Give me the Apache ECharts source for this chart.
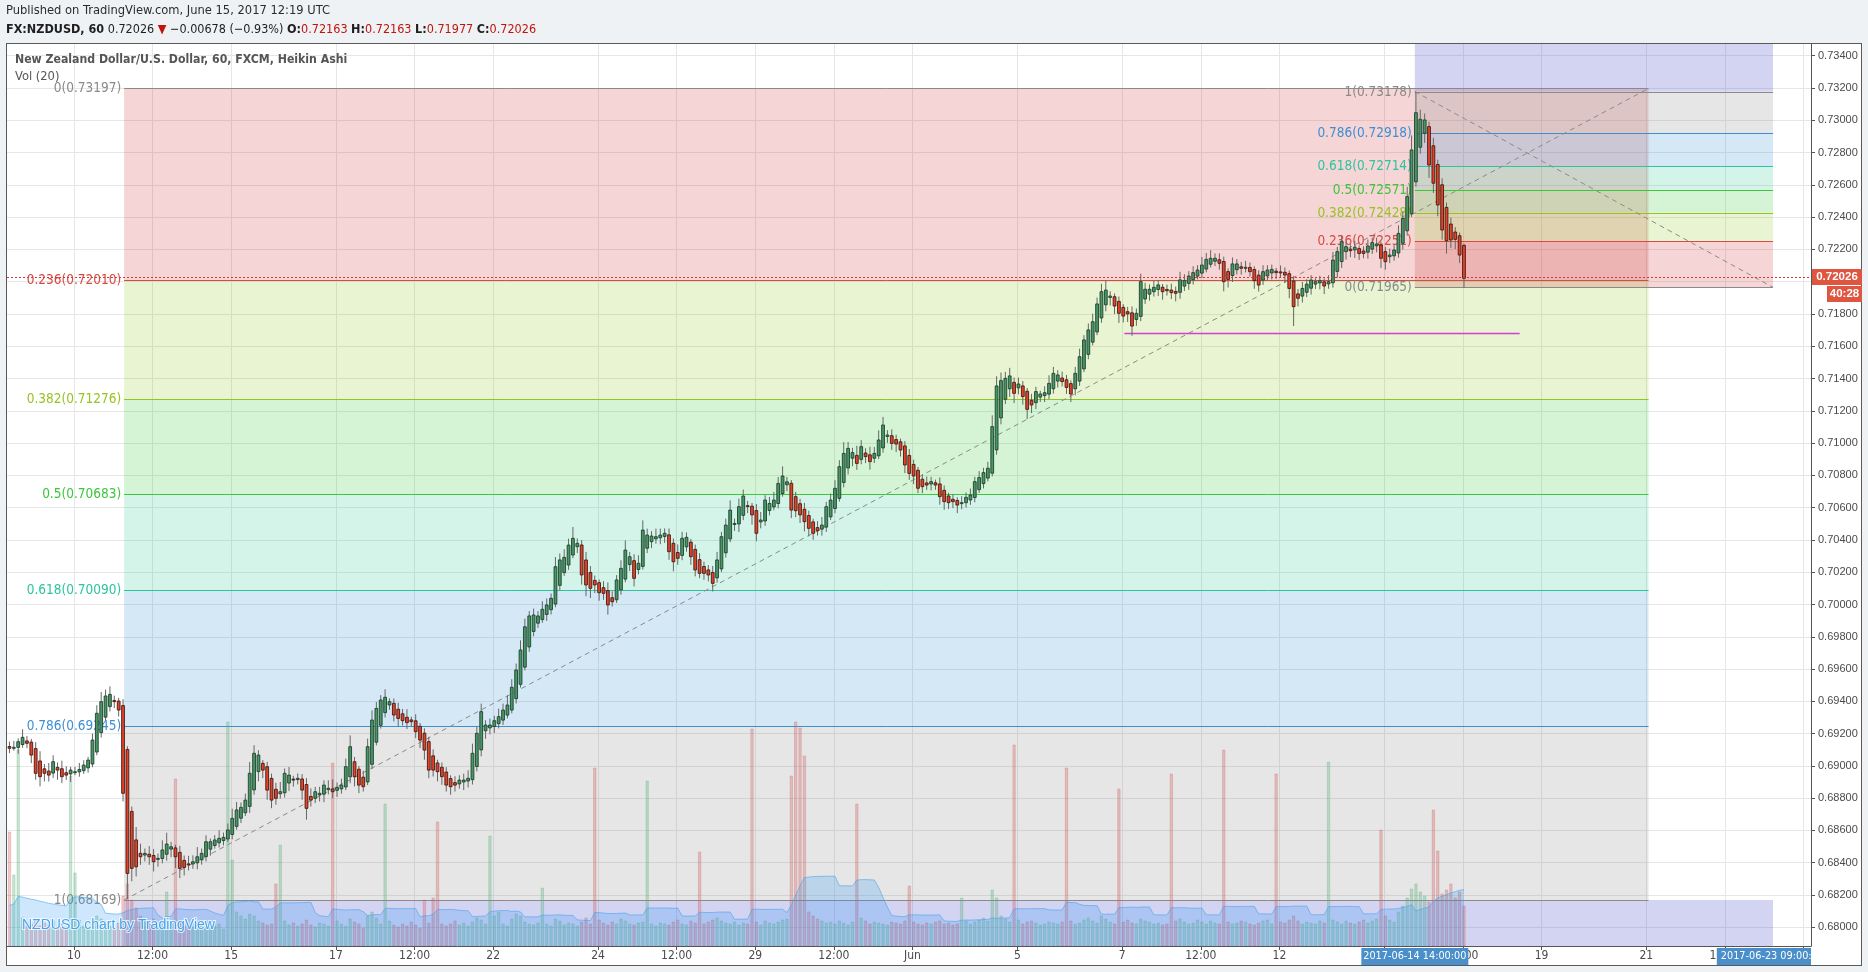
<!DOCTYPE html>
<html>
<head>
<meta charset="utf-8">
<title>NZDUSD 60 Heikin Ashi</title>
<script src="https://cdn.jsdelivr.net/npm/echarts@6.0.0/dist/echarts.min.js"></script>
<style>
html,body{margin:0;padding:0;background:#eff2f5;width:1868px;height:972px;overflow:hidden;}
#frame{position:absolute;left:6px;top:43px;width:1856px;height:923px;box-sizing:border-box;border:1px solid #5a5a5a;background:#fff;}
#c{position:absolute;left:0;top:0;width:1868px;height:972px;}
</style>
</head>
<body>
<div id="frame"></div>
<div id="c"></div>
<script>
// ---------------- DATA ----------------
// Heikin Ashi closes, one per 2-hour bar
const closes = [
0.69109,0.69115,0.6915,0.69177,0.6914,0.69067,0.68954,0.68933,0.68954,0.68943,
0.69026,0.68974,0.68933,0.68943,0.68974,0.68964,0.68978,0.69005,0.69036,0.6916,
0.69326,0.69398,0.69433,0.69443,0.69398,0.69346,0.6883,0.68334,0.68365,0.68375,
0.68437,0.68458,0.68437,0.68406,0.68427,0.68479,0.68516,0.68499,0.68437,0.68365,
0.68371,0.68392,0.68406,0.68437,0.68458,0.6853,0.6853,0.68541,0.68551,0.68557,
0.68603,0.68675,0.68727,0.68743,0.68788,0.68954,0.69078,0.69067,0.68974,0.6885,
0.68788,0.68799,0.6884,0.68954,0.68943,0.68912,0.68923,0.6885,0.68737,0.68788,
0.6884,0.6883,0.68881,0.68861,0.6884,0.68867,0.68881,0.68995,0.69119,0.68933,
0.68881,0.68871,0.69119,0.69284,0.69356,0.69408,0.69425,0.69398,0.69315,0.69294,
0.6928,0.69268,0.69274,0.69212,0.6916,0.69098,0.68974,0.68974,0.68964,0.68933,
0.68881,0.68871,0.68881,0.68912,0.68912,0.68923,0.69078,0.69202,0.69336,0.69253,
0.69253,0.6928,0.69305,0.69346,0.69377,0.69487,0.69594,0.69718,0.69862,0.69929,
0.69935,0.69929,0.6997,0.69997,0.70038,0.70234,0.70276,0.70292,0.70368,0.7041,
0.70379,0.70183,0.70121,0.701,0.70121,0.70073,0.70069,0.69997,0.70017,0.70152,
0.70224,0.70337,0.70296,0.70162,0.70255,0.70461,0.7043,0.70424,0.7042,0.7043,
0.70441,0.70327,0.70265,0.70286,0.7041,0.70416,0.70296,0.70214,0.70193,0.70193,
0.70183,0.70131,0.70276,0.7042,0.70492,0.70585,0.70502,0.70606,0.70672,0.70606,
0.70555,0.70441,0.70523,0.70647,0.70626,0.70647,0.7075,0.70796,0.7076,0.70585,
0.70581,0.70555,0.70513,0.70472,0.70441,0.70457,0.70492,0.70606,0.70647,0.7072,
0.70854,0.70936,0.70967,0.70941,0.70874,0.70978,0.70916,0.70885,0.70936,0.71019,
0.71112,0.7105,0.70998,0.70994,0.70957,0.70864,0.70812,0.70796,0.7072,0.7073,
0.7074,0.70761,0.7074,0.70668,0.70637,0.70631,0.70637,0.70616,0.70631,0.70664,
0.70678,0.70761,0.70786,0.70817,0.70844,0.71102,0.71354,0.71387,0.71401,0.71416,
0.71308,0.71366,0.71288,0.71209,0.71236,0.71319,0.71304,0.71312,0.7137,0.71432,
0.71422,0.71381,0.71345,0.71304,0.71432,0.71535,0.71639,0.71701,0.71752,0.71862,
0.71938,0.71948,0.71911,0.71849,0.71804,0.71787,0.718,0.71725,0.71804,0.72,
0.71953,0.71953,0.71965,0.7198,0.71938,0.71944,0.71932,0.71928,0.72011,0.72006,
0.72035,0.72056,0.72072,0.72103,0.72138,0.72145,0.72145,0.72114,0.72,0.72014,
0.7211,0.7211,0.72083,0.72089,0.72062,0.72006,0.71979,0.72062,0.72072,0.72076,
0.72056,0.72056,0.72041,0.71958,0.71845,0.71897,0.71958,0.71985,0.7201,0.72,
0.72006,0.71973,0.72,0.72134,0.72186,0.72248,0.72217,0.72192,0.72213,0.72175,
0.72175,0.72221,0.72242,0.72233,0.72145,0.72124,0.72165,0.72196,0.72299,0.72392,
0.72527,0.72816,0.73047,0.73006,0.73002,0.72723,0.7261,0.72475,0.7232,0.72254,
0.72258,0.72262,0.72165,0.72021
];
// upper / lower wick lengths beyond the body, in pips (0.0001)
const wickUp = [
3,4,2,5,3,2,4,6,3,5,4,3,5,4,2,3,4,3,2,4,
5,6,4,5,3,2,4,2,3,8,6,3,5,4,3,6,7,3,2,4,
3,5,4,6,3,4,2,3,5,3,4,6,5,3,4,7,5,3,2,3,
3,4,6,3,5,2,3,3,4,5,3,4,3,5,6,3,4,5,7,3,
2,4,5,6,4,3,5,2,3,4,3,5,2,4,2,3,3,4,2,3,
3,2,4,3,4,5,6,4,5,3,4,3,5,4,6,5,4,6,5,3,
4,3,5,4,3,6,4,5,4,7,3,3,5,4,3,2,4,5,4,3,
5,6,3,4,5,6,4,3,5,4,3,4,3,5,4,3,2,3,4,3,
3,4,5,3,4,6,3,5,4,3,2,4,5,3,4,5,4,6,3,2,
3,3,4,3,2,4,5,3,4,5,4,7,4,3,6,4,3,5,4,6,
5,3,4,3,2,3,4,3,2,3,4,3,2,4,3,2,3,2,4,3,
4,3,4,3,4,7,6,5,4,5,3,4,3,2,4,3,2,4,5,4,
3,4,3,2,4,5,3,4,5,4,5,6,3,2,3,2,3,4,3,5,
4,3,4,3,2,3,4,3,5,4,3,4,3,5,4,5,3,4,3,2,
4,3,3,4,3,2,3,4,3,3,2,4,3,2,3,3,4,3,3,2,
3,2,4,5,3,4,3,3,4,2,3,4,3,4,2,3,4,3,5,4,
6,9,13,6,4,3,5,3,4,3,4,3,2,1
];
const wickDn = [
3,2,4,2,3,5,4,6,5,4,3,6,4,3,5,2,3,2,3,2,
2,3,2,3,4,4,5,16,8,6,5,4,5,6,5,3,4,5,7,6,
5,4,3,4,3,3,4,2,3,3,2,3,2,3,2,4,3,6,5,6,
5,4,3,3,5,4,3,6,7,4,3,4,5,3,4,4,3,2,4,6,
5,3,2,3,2,2,3,3,4,5,3,4,3,4,5,6,5,4,6,5,
4,5,4,3,5,4,3,3,4,5,4,4,3,3,2,2,3,2,2,3,
3,3,2,4,3,2,3,2,3,2,4,6,7,6,5,5,4,6,3,2,
3,2,4,5,3,2,3,4,3,4,4,5,6,4,3,3,5,4,3,4,
4,5,3,2,3,2,4,5,3,4,6,5,4,3,3,2,3,2,4,5,
4,5,6,5,4,3,4,3,2,3,2,3,4,5,4,3,4,5,3,2,
3,4,4,5,4,5,4,5,3,4,3,4,3,5,5,4,4,5,4,3,
3,3,2,3,2,2,3,4,3,5,6,4,5,6,5,4,3,4,3,3,
4,3,4,5,4,3,2,3,2,2,3,4,5,5,6,4,5,6,4,3,
3,4,3,4,5,3,4,5,4,3,4,3,2,3,2,2,3,4,6,5,
4,3,4,3,3,5,4,3,3,4,4,3,5,6,12,5,4,3,4,3,
4,5,3,3,4,4,5,4,5,4,3,4,3,4,6,5,4,3,3,4,
3,2,3,4,6,8,6,7,6,8,5,6,5,6
];
// volume per 2-hour bar, and the bars just before the visible window (for the MA)
const priorVolumes = [420,450,400,480,430,390,460,410,440,380,350,330,300,320,290,280,300,260,280];
const volumes = [
1140,710,1960,280,240,220,260,200,230,210,250,190,220,180,1700,730,260,200,170,220,
300,270,220,200,170,230,500,620,460,380,300,250,220,270,200,180,540,220,1670,230,
200,220,190,230,210,240,180,200,220,170,2240,860,340,300,270,320,300,250,230,210,
220,620,1010,250,210,230,200,220,260,210,190,230,220,200,1830,250,220,200,270,240,
220,180,300,340,280,220,1420,250,210,190,220,200,240,210,180,460,230,480,1240,220,
200,220,250,210,230,200,240,280,260,220,1100,300,340,220,200,270,320,300,240,220,
210,230,580,220,200,270,250,210,230,220,200,240,280,220,1780,260,230,210,240,220,
270,250,220,210,230,240,1650,220,200,230,220,210,240,260,220,210,250,230,940,220,
240,260,280,250,230,220,240,210,230,220,2170,240,210,250,230,220,240,260,270,1700,
2240,2180,1900,340,300,270,250,230,240,220,250,230,210,240,1420,280,250,220,240,230,
220,210,240,230,220,250,600,240,220,210,230,220,240,250,220,230,210,220,480,250,
220,240,260,280,250,560,480,300,270,240,2010,260,220,240,250,230,210,220,240,230,
220,240,1780,250,220,230,260,280,250,230,300,270,240,220,1570,240,260,230,220,270,
250,240,220,230,210,220,1720,250,270,240,220,230,260,240,220,250,230,220,1960,240,
220,230,250,240,220,210,230,250,260,220,1720,240,230,260,300,250,220,240,230,220,
250,230,1840,260,240,220,250,230,220,240,260,230,250,270,1160,300,260,240,340,400,
480,570,620,540,500,440,1360,950,520,560,620,480,540,400
];
const firstOpen = 0.6912;
const firstBarHour = -30;      // hours counted (weekends skipped) from 10 May 00:00 UTC
const barSpanHours = 2;
const volMaPeriod = 20;

// time axis ticks (trading-hour index) and their labels
const tickHours  = [0,36,72,120,156,192,240,276,312,348,384,432,480,516,552,600,636,672,720,756,792];
const tickLabels = ['10','12:00','15','17','12:00','22','24','12:00','29','12:00','Jun','5','7','12:00','12','14','12:00','19','21','12:00','26'];
// price axis ticks
const priceTicks = [0.680,0.682,0.684,0.686,0.688,0.690,0.692,0.694,0.696,0.698,0.700,0.702,0.704,0.706,
                    0.708,0.710,0.712,0.714,0.716,0.718,0.720,0.722,0.724,0.726,0.728,0.730,0.732,0.734];

// Fibonacci retracements
const fibRatios  = [0, 0.236, 0.382, 0.5, 0.618, 0.786, 1];
const fib1Prices = [0.73197, 0.72010, 0.71276, 0.70683, 0.70090, 0.69245, 0.68169];
const fib1Hours  = [23, 721];
const fib2Prices = [0.71965, 0.72251, 0.72428, 0.72571, 0.72714, 0.72918, 0.73178];
const fib2Hours  = [614, 778];
const lowerExtHours = [23, 778];
const supportPrice = 0.71679;
const supportHours = [481, 662];
const lastPrice = 0.72026;
const countdownText = '40:28';
const crossHours = [614, 777];
const crossTexts = ['2017-06-14 14:00:00', '2017-06-23 09:00:'];

// ---------------- LAYOUT / STYLE ----------------
const GRID_RECT = {left: 7, top: 44, width: 1804, height: 902};
const H_RANGE = [-30.63, 795.4];
const P_RANGE = [0.678841, 0.734725];
const VOL_MAX = 9020;
const FONT_NARROW = "'Liberation Sans Narrow', 'DejaVu Sans Condensed', 'Liberation Sans', sans-serif";
const FONT_AXIS = "'Liberation Sans', Arial, sans-serif";
const FONT_FIB = "'DejaVu Sans Condensed', 'DejaVu Sans', sans-serif";
const fibColors = ['#8a8a8a', '#d94a45', '#97c322', '#3cc63c', '#2dc4a0', '#3d8fd3', '#8a8a8a'];
const bandFills = ['rgba(128,128,128,0.2)', 'rgba(205,45,45,0.2)', 'rgba(140,200,30,0.2)', 'rgba(45,200,45,0.2)',
                   'rgba(40,200,150,0.2)', 'rgba(40,140,205,0.2)', 'rgba(128,128,128,0.2)', 'rgba(85,85,205,0.26)'];
const lineStyles = fibColors.map(c => ({color: c, dash: null, width: 1}))
  .concat([{color: '#8a8a8a', dash: [5, 4], width: 1}, {color: '#d23fd2', dash: null, width: 1.3}]);
const UP_FILL = '#4b9668', UP_EDGE = '#1c432c', DN_FILL = '#e0442c', DN_EDGE = '#4a1810';

// ---------------- BUILD ----------------
const candles = [];
let o = firstOpen;
for (let k = 0; k < closes.length; k++) {
  if (k > 0) o = (candles[k - 1][1] + candles[k - 1][2]) / 2;   // Heikin Ashi open
  const c = closes[k];
  const hi = Math.max(o, c) + wickUp[k] * 1e-4;
  const lo = Math.min(o, c) - wickDn[k] * 1e-4;
  const t = firstBarHour + k * barSpanHours + barSpanHours / 4;
  candles.push([t, o, c, lo, hi]);
}
const volData = candles.map((cd, k) => [cd[0], volumes[k], cd[2] >= cd[1] ? 1 : 0]);
const allVol = priorVolumes.concat(volumes);
const volMa = candles.map((cd, k) => {
  const end = k + priorVolumes.length;
  const from = Math.max(0, end - volMaPeriod + 1);
  let s = 0; for (let j = from; j <= end; j++) s += allVol[j];
  return [cd[0], s / (end - from + 1)];
});

const bands = [];
for (let i = 0; i < 6; i++) bands.push([fib1Hours[0], fib1Hours[1], fib1Prices[i], fib1Prices[i + 1], i + 1]);
for (let i = 0; i < 6; i++) bands.push([fib2Hours[0], fib2Hours[1], fib2Prices[i], fib2Prices[i + 1], i + 1]);
bands.push([fib2Hours[0], fib2Hours[1], fib2Prices[6], P_RANGE[1], 7]);
bands.push([lowerExtHours[0], lowerExtHours[1], P_RANGE[0], fib1Prices[6], 7]);

const lines = [];
for (let i = 0; i < 7; i++) lines.push([fib1Hours[0], fib1Hours[1], fib1Prices[i], fib1Prices[i], i]);
for (let i = 0; i < 7; i++) lines.push([fib2Hours[0], fib2Hours[1], fib2Prices[i], fib2Prices[i], i]);
lines.push([fib1Hours[0], fib1Hours[1], fib1Prices[6], fib1Prices[0], 7]);
lines.push([fib2Hours[0], fib2Hours[1], fib2Prices[6], fib2Prices[0], 7]);
lines.push([supportHours[0], supportHours[1], supportPrice, supportPrice, 8]);

const labels = [];
for (let i = 0; i < 7; i++) labels.push([fib1Hours[0], fib1Prices[i], i]);
for (let i = 0; i < 7; i++) labels.push([fib2Hours[0], fib2Prices[i], i]);

const chart = echarts.init(document.getElementById('c'), null, {renderer: 'canvas'});

const option = {
  animation: false,
  backgroundColor: 'transparent',
  textStyle: {fontFamily: FONT_AXIS},
  grid: [Object.assign({}, GRID_RECT), Object.assign({}, GRID_RECT)],
  xAxis: [{
    type: 'value', gridIndex: 0, min: H_RANGE[0], max: H_RANGE[1],
    axisLine: {show: true, onZero: false, lineStyle: {color: '#555'}},
    axisTick: {show: true, customValues: tickHours, length: 4, lineStyle: {color: '#555'}},
    axisLabel: {show: true, customValues: tickHours, formatter: v => {
        const i = tickHours.indexOf(Math.round(v)); return i >= 0 ? tickLabels[i] : ''; },
      color: '#4a4a4a', fontFamily: FONT_NARROW, fontSize: 12, margin: 4},
    splitLine: {show: true, lineStyle: {color: '#e6e6e6', width: 1}}
  }, {
    type: 'value', gridIndex: 1, min: H_RANGE[0], max: H_RANGE[1], show: false,
    splitLine: {show: false}
  }],
  yAxis: [{
    type: 'value', gridIndex: 0, position: 'right', min: P_RANGE[0], max: P_RANGE[1],
    axisLine: {show: true, onZero: false, lineStyle: {color: '#555'}},
    axisTick: {show: true, customValues: priceTicks, length: 4, lineStyle: {color: '#555'}},
    axisLabel: {show: true, customValues: priceTicks, formatter: v => v.toFixed(5),
      color: '#4a4a4a', fontSize: 11, fontFamily: FONT_AXIS, margin: 7},
    splitLine: {show: true, lineStyle: {color: '#e6e6e6', width: 1}}
  }, {
    type: 'value', gridIndex: 1, min: 0, max: VOL_MAX, show: false, splitLine: {show: false}
  }],
  series: [
    { // Fibonacci fills
      type: 'custom', name: 'fibBands', xAxisIndex: 0, yAxisIndex: 0, z: 1, silent: true, clip: true,
      data: bands,
      renderItem: (params, api) => {
        const a = api.coord([api.value(0), api.value(2)]);
        const b = api.coord([api.value(1), api.value(3)]);
        return {type: 'rect', shape: {x: a[0], y: Math.min(a[1], b[1]), width: b[0] - a[0], height: Math.abs(b[1] - a[1])},
                style: {fill: bandFills[api.value(4)]}};
      }
    },
    { // Fibonacci lines, diagonals, support line
      type: 'custom', name: 'fibLines', xAxisIndex: 0, yAxisIndex: 0, z: 1.2, silent: true, clip: true,
      data: lines,
      renderItem: (params, api) => {
        const a = api.coord([api.value(0), api.value(2)]);
        const b = api.coord([api.value(1), api.value(3)]);
        const s = lineStyles[api.value(4)];
        let y1 = a[1], y2 = b[1];
        if (Math.abs(y1 - y2) < 0.01) { y1 = y2 = Math.round(y1) + 0.5; }
        return {type: 'line', shape: {x1: a[0], y1: y1, x2: b[0], y2: y2},
                style: {stroke: s.color, lineWidth: s.width, lineDash: s.dash}};
      }
    },
    { // Fibonacci labels
      type: 'custom', name: 'fibLabels', xAxisIndex: 0, yAxisIndex: 0, z: 1.3, silent: true,
      data: labels,
      renderItem: (params, api) => {
        const p = api.coord([api.value(0), api.value(1)]);
        const ri = api.value(2);
        return {type: 'text', x: p[0] - 3, y: Math.round(p[1]) + 0.5,
                style: {text: String(fibRatios[ri]) + '(' + api.value(1).toFixed(5) + ')',
                        fill: fibColors[ri], align: 'right', verticalAlign: 'middle',
                        fontSize: 13.5, fontFamily: FONT_FIB}};
      }
    },
    { // volume bars
      type: 'custom', name: 'Vol', xAxisIndex: 1, yAxisIndex: 1, z: 2, silent: true, clip: true,
      data: volData,
      renderItem: (params, api) => {
        const top = api.coord([api.value(0), api.value(1)]);
        const base = api.coord([api.value(0), 0]);
        const w = api.size([barSpanHours, 0])[0] * 0.55;
        const up = api.value(2) === 1;
        return {type: 'rect', shape: {x: top[0] - w / 2, y: top[1], width: w, height: base[1] - top[1]},
                style: {fill: up ? 'rgba(86,180,120,0.32)' : 'rgba(210,95,95,0.32)',
                        stroke: up ? 'rgba(86,170,115,0.45)' : 'rgba(200,90,90,0.45)', lineWidth: 0.6}};
      }
    },
    { // volume moving average
      type: 'line', name: 'Vol MA', xAxisIndex: 1, yAxisIndex: 1, z: 2.1, silent: true,
      data: volMa, symbol: 'none', smooth: false,
      lineStyle: {color: 'rgba(60,160,235,0.55)', width: 1},
      areaStyle: {color: 'rgba(45,150,240,0.33)'}
    },
    { // Heikin Ashi candles
      type: 'custom', name: 'NZDUSD', xAxisIndex: 0, yAxisIndex: 0, z: 3, silent: true, clip: true,
      data: candles,
      renderItem: (params, api) => {
        const t = api.value(0), op = api.value(1), cl = api.value(2), lo = api.value(3), hi = api.value(4);
        const pO = api.coord([t, op]), pC = api.coord([t, cl]), pL = api.coord([t, lo]), pH = api.coord([t, hi]);
        const bw = api.size([barSpanHours, 0])[0] * 0.64;
        const up = cl >= op;
        const x = pO[0];
        const top = Math.min(pO[1], pC[1]);
        const h = Math.max(Math.abs(pO[1] - pC[1]), 1);
        return {type: 'group', children: [
          {type: 'line', shape: {x1: x, y1: pH[1], x2: x, y2: pL[1]}, style: {stroke: '#666', lineWidth: 1}},
          {type: 'rect', shape: {x: x - bw / 2, y: top, width: bw, height: h},
           style: {fill: up ? UP_FILL : DN_FILL, stroke: up ? UP_EDGE : DN_EDGE, lineWidth: 0.9}}
        ]};
      }
    },
    { // last price line
      type: 'custom', name: 'lastPrice', xAxisIndex: 0, yAxisIndex: 0, z: 4, silent: true,
      data: [[H_RANGE[0], lastPrice]],
      renderItem: (params, api) => {
        const y = Math.round(api.coord([api.value(0), api.value(1)])[1]) + 0.5;
        const cs = params.coordSys;
        return {type: 'line', shape: {x1: cs.x, y1: y, x2: cs.x + cs.width, y2: y},
                style: {stroke: '#d33a2c', lineWidth: 1, lineDash: [2, 2]}};
      }
    }
  ]
};
chart.setOption(option);

// ---------------- ANNOTATIONS ----------------
const xRight = chart.convertToPixel({xAxisIndex: 0}, H_RANGE[1]);
const yBottom = chart.convertToPixel({yAxisIndex: 0}, P_RANGE[0]);
const yLast = Math.round(chart.convertToPixel({yAxisIndex: 0}, lastPrice));
const cross = crossHours.map(h => chart.convertToPixel({xAxisIndex: 0}, h));

const graphics = [
  {type: 'text', x: 6, y: 11, z: 100, style: {text: 'Published on TradingView.com, June 15, 2017 12:19 UTC',
    fill: '#2b2b2b', fontSize: 12.8, fontFamily: FONT_NARROW, verticalAlign: 'middle'}},
  {type: 'text', x: 6, y: 30, z: 100, style: {
    text: '{b|FX:NZDUSD, 60} {n|0.72026} {r|▼} {n|−0.00678 (−0.93%)} {b|O:}{r|0.72163} {b|H:}{r|0.72163} {b|L:}{r|0.71977} {b|C:}{r|0.72026}',
    fontSize: 12.5, fontFamily: FONT_NARROW, verticalAlign: 'middle', fill: '#222',
    rich: {
      b: {fontWeight: 'bold', fill: '#1e1e1e', fontSize: 12.5, fontFamily: FONT_NARROW},
      n: {fill: '#1e1e1e', fontSize: 12.5, fontFamily: FONT_NARROW},
      r: {fill: '#c0140c', fontSize: 12.5, fontFamily: FONT_NARROW}
    }}},
  {type: 'text', x: 15, y: 60, z: 100, style: {text: 'New Zealand Dollar/U.S. Dollar, 60, FXCM, Heikin Ashi',
    fill: '#555', fontSize: 12.2, fontWeight: 'bold', fontFamily: FONT_NARROW, verticalAlign: 'middle'}},
  {type: 'text', x: 15, y: 77, z: 100, style: {text: 'Vol (20)',
    fill: '#555', fontSize: 12.8, fontFamily: FONT_NARROW, verticalAlign: 'middle'}},
  {type: 'text', x: 22, y: 925, z: 100, style: {text: 'NZDUSD chart by TradingView',
    fill: 'rgba(40,150,235,0.85)', stroke: 'rgba(255,255,255,0.75)', lineWidth: 2,
    fontSize: 14, fontFamily: FONT_AXIS, verticalAlign: 'middle'}},
  // last price box on the price axis
  {type: 'rect', z: 100, shape: {x: xRight + 1, y: yLast - 8, width: 50, height: 16}, style: {fill: '#df5540'}},
  {type: 'text', z: 101, x: xRight + 26, y: yLast, style: {text: lastPrice.toFixed(5), fill: '#fff', fontWeight: 'bold',
    fontSize: 11.5, fontFamily: FONT_AXIS, align: 'center', verticalAlign: 'middle'}},
  {type: 'rect', z: 100, shape: {x: xRight + 16, y: yLast + 9, width: 35, height: 16}, style: {fill: '#df5540'}},
  {type: 'text', z: 101, x: xRight + 33.5, y: yLast + 17, style: {text: countdownText, fill: '#fff', fontWeight: 'bold',
    fontSize: 11.5, fontFamily: FONT_AXIS, align: 'center', verticalAlign: 'middle'}},
  // time labels of the selected drawing
  {type: 'rect', z: 100, shape: {x: cross[0] - 53.5, y: yBottom + 2, width: 107, height: 17}, style: {fill: '#4a8fca'}},
  {type: 'text', z: 101, x: cross[0], y: yBottom + 10.5, style: {text: crossTexts[0], fill: '#fff',
    fontSize: 10.8, fontFamily: FONT_NARROW, align: 'center', verticalAlign: 'middle'}},
  {type: 'rect', z: 100, shape: {x: cross[1] - 54, y: yBottom + 2, width: xRight - (cross[1] - 54), height: 17}, style: {fill: '#4a8fca'}},
  {type: 'text', z: 101, x: cross[1] - 50, y: yBottom + 10.5, style: {text: crossTexts[1], fill: '#fff',
    fontSize: 10.8, fontFamily: FONT_NARROW, align: 'left', verticalAlign: 'middle'}}
];
chart.setOption({graphic: graphics});
</script>
</body>
</html>
